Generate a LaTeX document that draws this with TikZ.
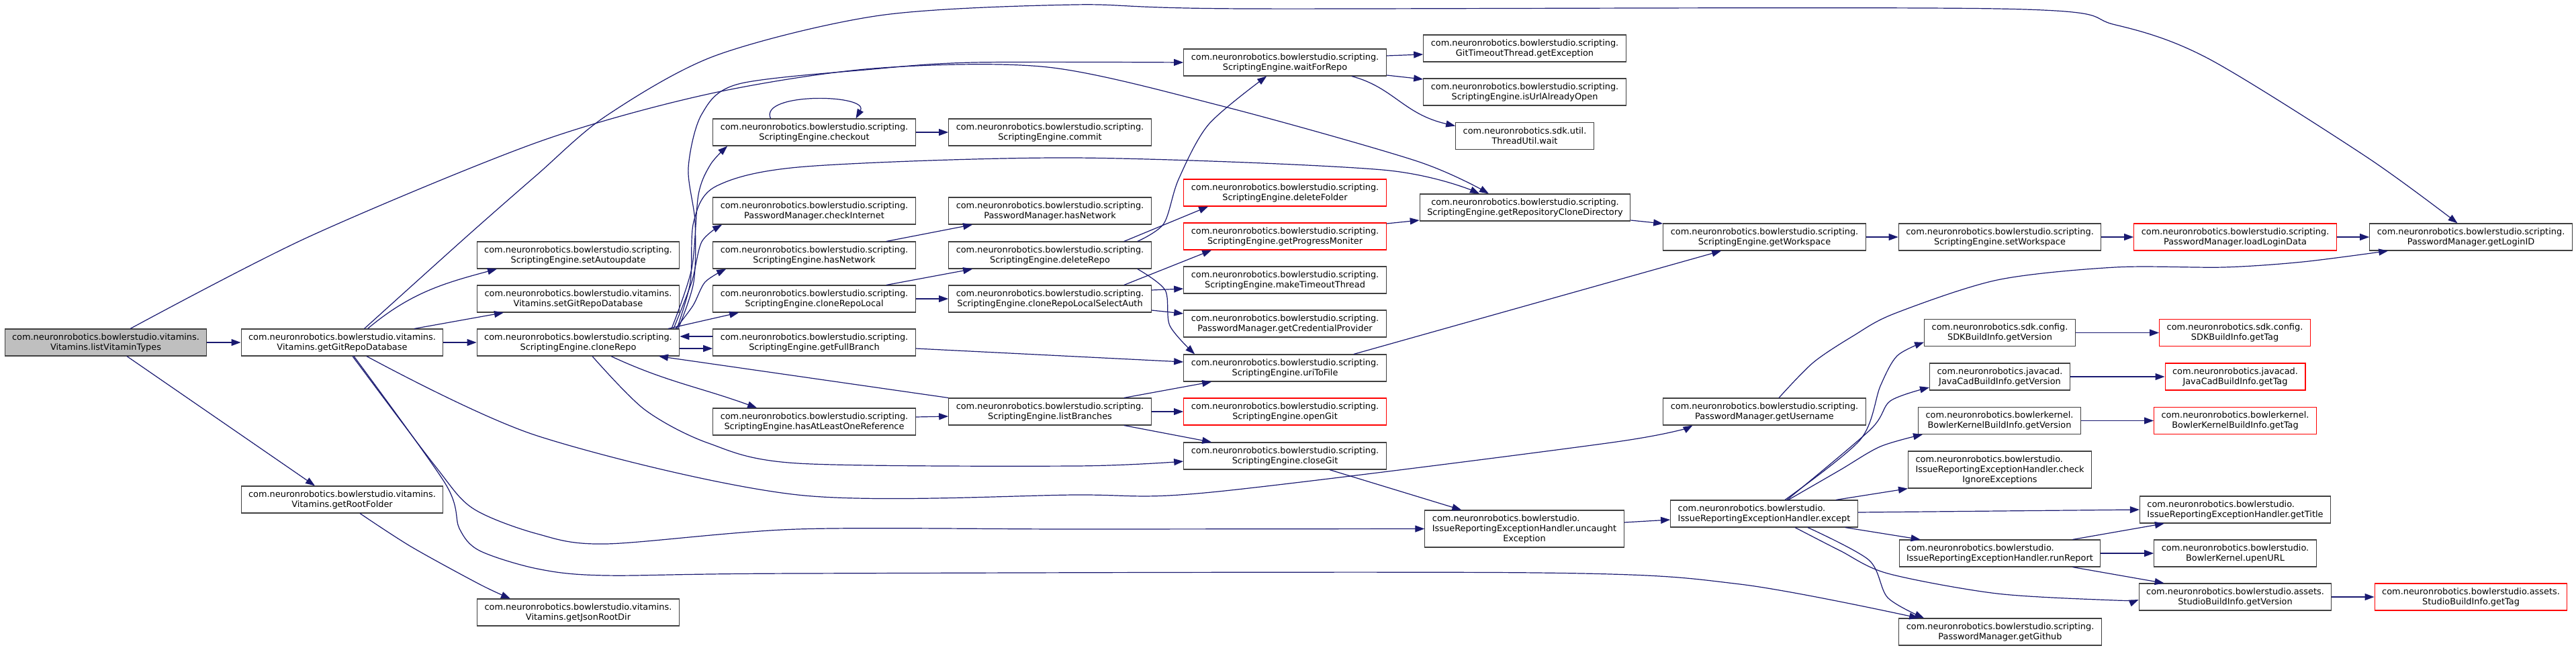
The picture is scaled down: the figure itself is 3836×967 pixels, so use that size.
\documentclass[tikz,border=0pt]{standalone}
\usepackage{fontspec}
\setmainfont{DejaVu Sans}
\usetikzlibrary{arrows.meta}
\definecolor{edgeblue}{HTML}{191970}
\definecolor{rootgray}{HTML}{BFBFBF}
\definecolor{missred}{HTML}{FF0000}
\newcommand\pkgscr{com.neuronrobotics.bowlerstudio.scripting.}
\newcommand\pkgvit{com.neuronrobotics.bowlerstudio.vitamins.}
\newcommand\pkgbs{com.neuronrobotics.bowlerstudio.}
\newcommand\pkgast{com.neuronrobotics.bowlerstudio.assets.}
\tikzset{
  fn/.style={draw=black!75,fill=white,line width=1.1pt,rectangle,minimum height=40pt,inner xsep=11pt,inner ysep=2pt,align=center,font=\fontsize{12.9}{15}\selectfont},
  fnroot/.style={fn,fill=rootgray},
  fnred/.style={fn,draw=missred},
  fnleft/.style={fn,align=left},
  fnwrap/.style={fn,align=left,minimum height=55pt},
  call/.style={edgeblue,line width=1.2pt,-{Triangle[length=14pt,width=10pt]}}
}

\begin{document}
\begin{tikzpicture}[x=1pt,y=1pt]
  \useasboundingbox (0,0) rectangle (3836,-967);

  % columns of called functions
  \node[fnroot] (lvt) at (157.5,-510) {\pkgvit\\Vitamins.listVitaminTypes};
  \node[fn] (ggrd) at (509.5,-510) {\pkgvit\\Vitamins.getGitRepoDatabase};
  \node[fn] (grf) at (509.5,-744) {\pkgvit\\Vitamins.getRootFolder};

  \node[fn] (setauto) at (861,-380) {\pkgscr\\ScriptingEngine.setAutoupdate};
  \node[fn] (setgit) at (861,-445) {\pkgvit\\Vitamins.setGitRepoDatabase};
  \node[fn] (clonerepo) at (861,-510) {\pkgscr\\ScriptingEngine.cloneRepo};
  \node[fn] (jsondir) at (861,-912) {\pkgvit\\Vitamins.getJsonRootDir};

  \node[fn] (checkout) at (1212.5,-197) {\pkgscr\\ScriptingEngine.checkout};
  \node[fn] (chkinet) at (1212.5,-314) {\pkgscr\\PasswordManager.checkInternet};
  \node[fn] (hasnet) at (1212.5,-380) {\pkgscr\\ScriptingEngine.hasNetwork};
  \node[fn] (clonelocal) at (1212.5,-445) {\pkgscr\\ScriptingEngine.cloneRepoLocal};
  \node[fn] (fullbr) at (1212.5,-510) {\pkgscr\\ScriptingEngine.getFullBranch};
  \node[fn] (hasref) at (1212.5,-628) {\pkgscr\\ScriptingEngine.hasAtLeastOneReference};

  \node[fn] (commit) at (1563.5,-197) {\pkgscr\\ScriptingEngine.commit};
  \node[fn] (pmhasnet) at (1563.5,-314) {\pkgscr\\PasswordManager.hasNetwork};
  \node[fn] (delrepo) at (1563.5,-380) {\pkgscr\\ScriptingEngine.deleteRepo};
  \node[fn] (selauth) at (1563.5,-445) {\pkgscr\\ScriptingEngine.cloneRepoLocalSelectAuth};
  \node[fn] (listbr) at (1563.5,-613) {\pkgscr\\ScriptingEngine.listBranches};

  \node[fn] (waitrepo) at (1913.5,-93) {\pkgscr\\ScriptingEngine.waitForRepo};
  \node[fnred] (delfolder) at (1913.5,-287) {\pkgscr\\ScriptingEngine.deleteFolder};
  \node[fnred] (progmon) at (1913.5,-352) {\pkgscr\\ScriptingEngine.getProgressMoniter};
  \node[fn] (mktimeout) at (1913.5,-417) {\pkgscr\\ScriptingEngine.makeTimeoutThread};
  \node[fn] (credprov) at (1913.5,-482) {\pkgscr\\PasswordManager.getCredentialProvider};
  \node[fn] (uritofile) at (1913.5,-548) {\pkgscr\\ScriptingEngine.uriToFile};
  \node[fnred] (opengit) at (1913.5,-613) {\pkgscr\\ScriptingEngine.openGit};
  \node[fn] (closegit) at (1913.5,-679) {\pkgscr\\ScriptingEngine.closeGit};

  \node[fn] (getexc) at (2270.5,-72) {\pkgscr\\GitTimeoutThread.getException};
  \node[fn] (urlopen) at (2270.5,-137) {\pkgscr\\ScriptingEngine.isUrlAlreadyOpen};
  \node[fn] (twait) at (2270.5,-202.5) {com.neuronrobotics.sdk.util.\\ThreadUtil.wait};
  \node[fn] (clonedir) at (2271,-309) {\pkgscr\\ScriptingEngine.getRepositoryCloneDirectory};
  \node[fnwrap] (uncaught) at (2270,-787.5) {\pkgbs\\IssueReportingExceptionHandler.uncaught\\\hspace*{\fill}Exception\hspace*{\fill}};

  \node[fn] (workspace) at (2627.5,-353) {\pkgscr\\ScriptingEngine.getWorkspace};
  \node[fn] (username) at (2627.5,-613) {\pkgscr\\PasswordManager.getUsername};
  \node[fnleft] (except) at (2627,-765) {\pkgbs\\IssueReportingExceptionHandler.except};

  \node[fn] (setws) at (2978,-353) {\pkgscr\\ScriptingEngine.setWorkspace};
  \node[fn] (sdkver) at (2978,-495.5) {com.neuronrobotics.sdk.config.\\SDKBuildInfo.getVersion};
  \node[fn] (jcver) at (2978,-561) {com.neuronrobotics.javacad.\\JavaCadBuildInfo.getVersion};
  \node[fn] (bkver) at (2977.5,-626.5) {com.neuronrobotics.bowlerkernel.\\BowlerKernelBuildInfo.getVersion};
  \node[fnwrap] (chkignore) at (2978,-699.5) {\pkgbs\\IssueReportingExceptionHandler.check\\\hspace*{\fill}IgnoreExceptions\hspace*{\fill}};
  \node[fnleft] (runrep) at (2978,-824) {\pkgbs\\IssueReportingExceptionHandler.runReport};
  \node[fn] (github) at (2978.5,-941) {\pkgscr\\PasswordManager.getGithub};

  \node[fnred] (loadlogin) at (3328.5,-353) {\pkgscr\\PasswordManager.loadLoginData};
  \node[fnred] (sdktag) at (3328,-495.5) {com.neuronrobotics.sdk.config.\\SDKBuildInfo.getTag};
  \node[fnred] (jctag) at (3328.5,-561) {com.neuronrobotics.javacad.\\JavaCadBuildInfo.getTag};
  \node[fnred] (bktag) at (3328.5,-626.5) {com.neuronrobotics.bowlerkernel.\\BowlerKernelBuildInfo.getTag};
  \node[fnleft] (gettitle) at (3328.5,-759) {\pkgbs\\IssueReportingExceptionHandler.getTitle};
  \node[fn] (upenurl) at (3328.5,-824) {\pkgbs\\BowlerKernel.upenURL};
  \node[fn] (studiover) at (3328.5,-889) {\pkgast\\StudioBuildInfo.getVersion};

  \node[fn] (loginid) at (3679.5,-353) {\pkgscr\\PasswordManager.getLoginID};
  \node[fnred] (studiotag) at (3679.5,-889) {\pkgast\\StudioBuildInfo.getTag};

  % calls
  \draw[call] (lvt.east) -- (ggrd.west);
  \draw[call] ([xshift=31.5pt]lvt.south) -- ([xshift=-40.5pt]grf.north);
  \draw[call] plot[smooth] coordinates {([xshift=36.5pt]lvt.north) (459,-353) (800,-212) (1055,-140) (1300,-102) (1560,-100) (1820,-158) (2110,-240) ([xshift=-54pt]clonedir.north)};

  \draw[call] ([xshift=38pt]ggrd.north) to[out=40,in=195] ([xshift=-121pt]setauto.south);
  \draw[call] ([xshift=107.5pt]ggrd.north) -- ([xshift=-111pt]setgit.south);
  \draw[call] (ggrd.east) -- (clonerepo.west);
  \draw[call] plot[smooth] coordinates {([xshift=33pt]ggrd.north) (694,-353) (800,-260) (902,-173) (1065,-83) (1310,-23) (1600,-7) (1855,-13) (2974,-13) (3150,-37) (3288,-87) (3523,-233) ([xshift=-20pt]loginid.north)};
  \draw[call] plot[smooth] coordinates {([xshift=36.5pt]ggrd.south) (800,-649) (1188,-737) (1600,-737) (1804,-733) (2400,-659) ([xshift=-107pt]username.south)};
  \draw[call] plot[smooth] coordinates {([xshift=15.5pt]ggrd.south) (648,-694) (704,-757) (800,-795) (902,-810) (1188,-788) (1600,-788) (uncaught.west)};
  \draw[call] plot[smooth] coordinates {([xshift=17.5pt]ggrd.south) (663,-720) (684,-787) (714,-820) (800,-847) (902,-857) (1188,-854) (2289,-853) (2591,-870) ([xshift=30pt]github.north west)};
  \draw[call] plot[smooth] coordinates {([xshift=26.5pt]grf.south) (612,-814) (714,-870) ([xshift=50pt]jsondir.north west)};

  \draw[call] plot[smooth] coordinates {([xshift=139pt]clonerepo.north) (1030,-400) (1040,-290) (1058,-245) ([xshift=22pt]checkout.south west)};
  \draw[call] plot[smooth] coordinates {([xshift=142pt]clonerepo.north) (1030,-420) (1045,-360) ([xshift=14pt]chkinet.south west)};
  \draw[call] plot[smooth] coordinates {([xshift=145pt]clonerepo.north) (1032,-455) (1050,-420) ([xshift=20pt]hasnet.south west)};
  \draw[call] ([xshift=134pt]clonerepo.north) -- ([xshift=39pt]clonelocal.south west);
  \draw[call] plot[smooth] coordinates {([xshift=149pt]clonerepo.north) (1033,-420) (1035,-330) (1025,-250) (1045,-170) (1100,-125) (1300,-103) (1450,-93) (waitrepo.west)};
  \draw[call] plot[smooth] coordinates {([xshift=147pt]clonerepo.north) (1028,-420) (1033,-330) (1067,-277) (1200,-248) (1600,-235) (2059,-253) ([xshift=-68pt]clonedir.north)};
  \draw[call] ([yshift=-9pt]clonerepo.east) -- ([yshift=-9pt]fullbr.west);
  \draw[call] ([yshift=9pt]fullbr.west) -- ([yshift=9pt]clonerepo.east);
  \draw[call] ([xshift=49pt]clonerepo.south) to[out=-25,in=160] ([xshift=66pt]hasref.north west);
  \draw[call] plot[smooth] coordinates {([xshift=21pt]clonerepo.south) (960,-610) (1055,-660) (1188,-690) (1600,-694) ([yshift=-8pt]closegit.west)};

  \draw[call] (listbr.north west) -- ([xshift=120pt]clonerepo.south);
  \draw[call] ([yshift=7pt]hasref.east) -- ([yshift=-7pt]listbr.west);
  \draw[call] ([yshift=-9pt]fullbr.east) -- ([yshift=9pt]uritofile.west);
  \draw[call] ([xshift=-41pt]listbr.north east) -- ([xshift=42pt]uritofile.south west);
  \draw[call] (listbr.east) -- (opengit.west);
  \draw[call] ([xshift=-41pt]listbr.south east) -- ([xshift=42pt]closegit.north west);

  \draw[call] ([xshift=-65pt]checkout.north) .. controls (1130,-137) and (1295,-140) .. ([xshift=62pt]checkout.north);
  \draw[call] (checkout.east) -- (commit.west);
  \draw[call] ([xshift=-44pt]hasnet.north east) -- ([xshift=36pt]pmhasnet.south west);
  \draw[call] ([xshift=-44pt]clonelocal.north east) -- ([xshift=36pt]delrepo.south west);
  \draw[call] (clonelocal.east) -- (selauth.west);

  \draw[call] ([xshift=-41pt]delrepo.north east) -- ([xshift=37pt]delfolder.south west);
  \draw[call] plot[smooth] coordinates {([xshift=-21pt]delrepo.north east) (1733,-333) (1755,-267) (1800,-185) ([xshift=124pt]waitrepo.south west)};
  \draw[call] plot[smooth] coordinates {([xshift=-21pt]delrepo.south east) (1735,-432) (1742,-485) ([xshift=17pt]uritofile.north west)};
  \draw[call] ([xshift=-41pt]selauth.north east) -- ([xshift=42pt]progmon.south west);
  \draw[call] ([yshift=13pt]selauth.east) -- ([yshift=-13pt]mktimeout.west);
  \draw[call] ([yshift=-17pt]selauth.east) -- ([yshift=15pt]credprov.west);

  \draw[call] ([yshift=10pt]waitrepo.east) -- ([yshift=-9pt]getexc.west);
  \draw[call] ([yshift=-19pt]waitrepo.east) -- ([yshift=19pt]urlopen.west);
  \draw[call] ([xshift=-52pt]waitrepo.south east) .. controls (2075,-130) and (2090,-170) .. ([yshift=15pt]twait.west);
  \draw[call] ([yshift=19pt]progmon.east) -- ([yshift=-19pt]clonedir.west);
  \draw[call] ([yshift=-19pt]clonedir.east) -- ([yshift=20pt]workspace.west);
  \draw[call] ([xshift=-49pt]uritofile.north east) -- ([xshift=87pt]workspace.south west);
  \draw[call] ([xshift=-85pt]closegit.south east) -- ([xshift=55pt]uncaught.north west);
  \draw[call] ([yshift=9.5pt]uncaught.east) -- ([yshift=-9pt]except.west);

  \draw[call] (workspace.east) -- (setws.west);
  \draw[call] (setws.east) -- (loadlogin.west);
  \draw[call] (loadlogin.east) -- (loginid.west);
  \draw[call] plot[smooth] coordinates {([xshift=21.5pt]username.north) (2700,-540) (2760,-500) (2821,-467) (2974,-417) (3150,-398) (3311,-398) (3429,-390) ([xshift=28pt]loginid.south west)};

  \draw[call] plot[smooth] coordinates {([xshift=31pt]except.north) (2770,-655) (2800,-575) (2825,-530) ([yshift=-14pt]sdkver.west)};
  \draw[call] plot[smooth] coordinates {([xshift=34pt]except.north) (2785,-640) (2815,-597) ([yshift=-16pt]jcver.west)};
  \draw[call] plot[smooth] coordinates {([xshift=36pt]except.north) (2740,-700) (2800,-665) ([xshift=7pt]bkver.south west)};
  \draw[call] ([xshift=-33pt]except.north east) -- (chkignore.south west);
  \draw[call] ([yshift=2pt]except.east) -- (gettitle.west);
  \draw[call] ([xshift=-19pt]except.south east) -- ([xshift=32pt]runrep.north west);
  \draw[call] plot[smooth] coordinates {([xshift=46pt]except.south) (2740,-820) (2811,-854) (2974,-884) (3150,-894) ([yshift=-4pt]studiover.west)};
  \draw[call] plot[smooth] coordinates {([xshift=65pt]except.south) (2783,-834) (2811,-890) ([xshift=38pt]github.north west)};

  \draw[call] ([xshift=-42pt]runrep.north east) -- ([xshift=37pt]gettitle.south west);
  \draw[call] (runrep.east) -- (upenurl.west);
  \draw[call] ([xshift=-42pt]runrep.south east) -- ([xshift=38pt]studiover.north west);
  \draw[call] (sdkver.east) -- (sdktag.west);
  \draw[call] (jcver.east) -- (jctag.west);
  \draw[call] (bkver.east) -- (bktag.west);
  \draw[call] (studiover.east) -- (studiotag.west);
\end{tikzpicture}
\end{document}
